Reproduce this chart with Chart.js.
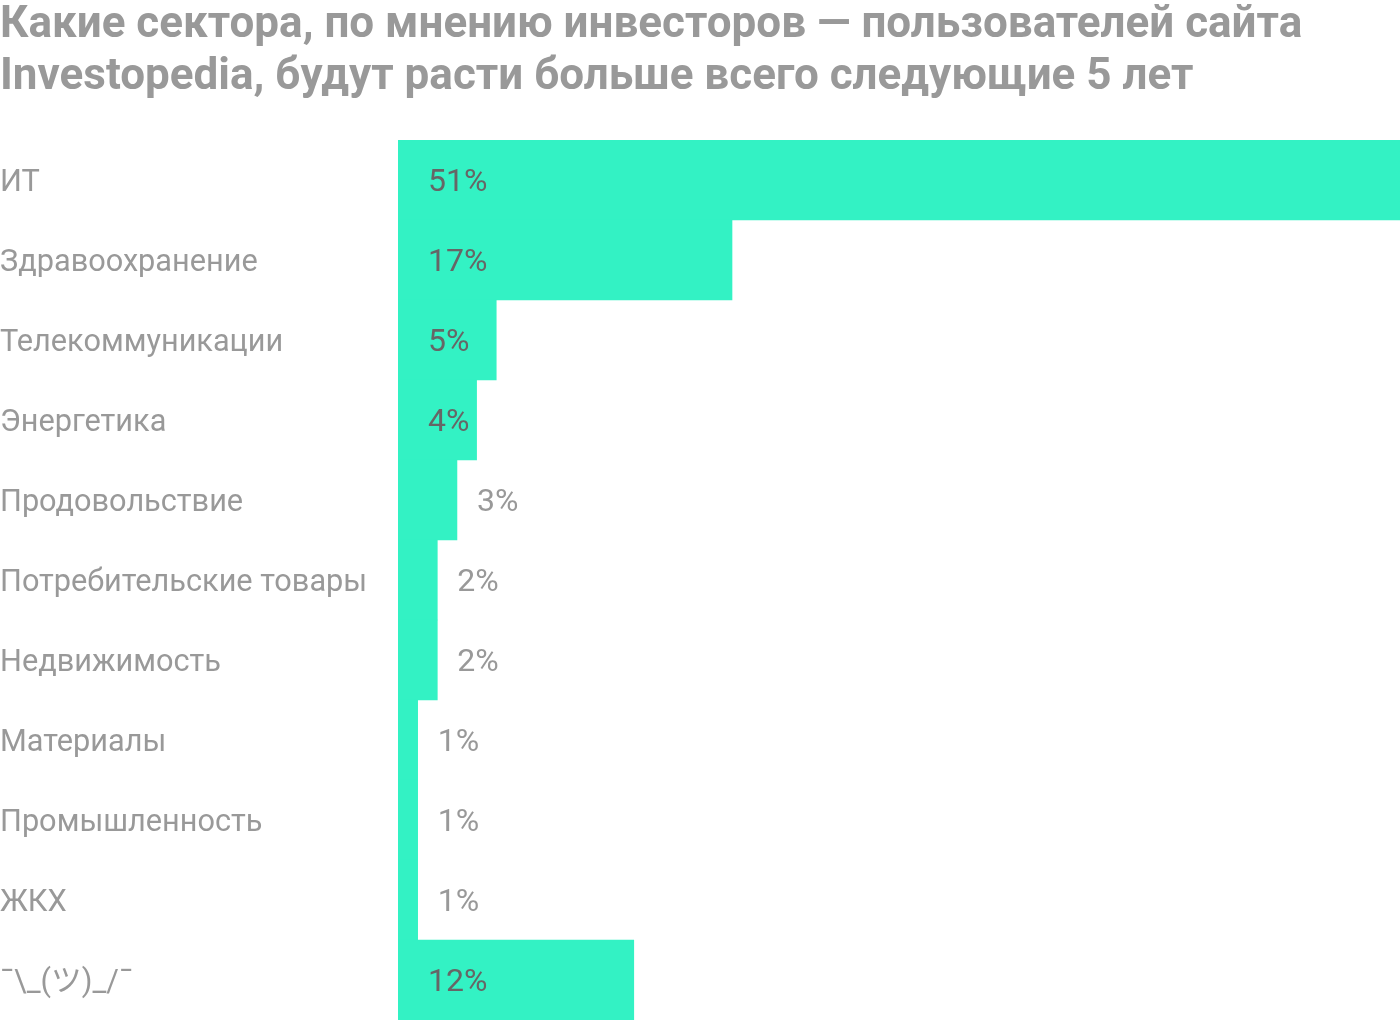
<!DOCTYPE html>
<html>
<head>
<meta charset="utf-8">
<script src="https://cdn.jsdelivr.net/npm/chart.js@4"></script>
<style>
  html, body { margin: 0; padding: 0; background: #fff; }
  #wrap { width: 1400px; height: 1020px; }
</style>
</head>
<body>
<div id="wrap"><canvas id="sectorsChart"></canvas></div>
<script>
const titleLines = [
  "Какие сектора, по мнению инвесторов — пользователей сайта",
  "Investopedia, будут расти больше всего следующие 5 лет",
];
const sectors = [
  "ИТ",
  "Здравоохранение",
  "Телекоммуникации",
  "Энергетика",
  "Продовольствие",
  "Потребительские товары",
  "Недвижимость",
  "Материалы",
  "Промышленность",
  "ЖКХ",
  "¯\\_(ツ)_/¯",
];
const shares = [51, 17, 5, 4, 3, 2, 2, 1, 1, 1, 12];

const FONT = "Roboto, 'Noto Sans CJK JP', sans-serif";

// Percent labels: inside the bar if they fit, otherwise just after it
const valueLabels = {
  id: "valueLabels",
  afterDatasetsDraw(chart) {
    const ctx = chart.ctx;
    const meta = chart.getDatasetMeta(0);
    ctx.save();
    ctx.font = "32px " + FONT;
    ctx.textBaseline = "middle";
    ctx.textAlign = "left";
    meta.data.forEach((bar, i) => {
      const text = shares[i] + "%";
      const w = ctx.measureText(text).width;
      const barW = bar.x - bar.base;
      if (30 + w + 4 <= barW) {
        ctx.fillStyle = "#666666";
        ctx.fillText(text, bar.base + 30, bar.y + 3);
      } else {
        ctx.fillStyle = "#999999";
        ctx.fillText(text, bar.x + 20, bar.y + 3);
      }
    });
    ctx.restore();
  },
};

const chart = new Chart(document.getElementById("sectorsChart"), {
  type: "bar",
  data: {
    labels: sectors,
    datasets: [
      {
        data: shares,
        backgroundColor: "#33F2C4",
        borderWidth: 0,
        categoryPercentage: 1,
        barPercentage: 1,
      },
    ],
  },
  options: {
    indexAxis: "y",
    responsive: true,
    maintainAspectRatio: false,
    animation: false,
    layout: { padding: 0 },
    scales: {
      x: {
        display: false,
        min: 0,
        max: 51,
      },
      y: {
        grid: { display: false, drawTicks: false },
        border: { display: false },
        ticks: {
          crossAlign: "far",
          padding: 0,
          labelOffset: 3,
          color: "#999999",
          font: { family: FONT, size: 30.7 },
        },
        afterFit(scale) {
          scale.width = 398;
          scale.paddingTop = 0;
          scale.paddingBottom = 0;
        },
      },
    },
    plugins: {
      legend: { display: false },
      tooltip: { enabled: false },
      title: {
        display: true,
        text: titleLines,
        align: "start",
        color: "#999999",
        font: { family: FONT, size: 44, weight: "bold", lineHeight: "52px" },
        padding: { top: 0, bottom: 36 },
      },
    },
  },
  plugins: [valueLabels],
});
</script>
</body>
</html>
